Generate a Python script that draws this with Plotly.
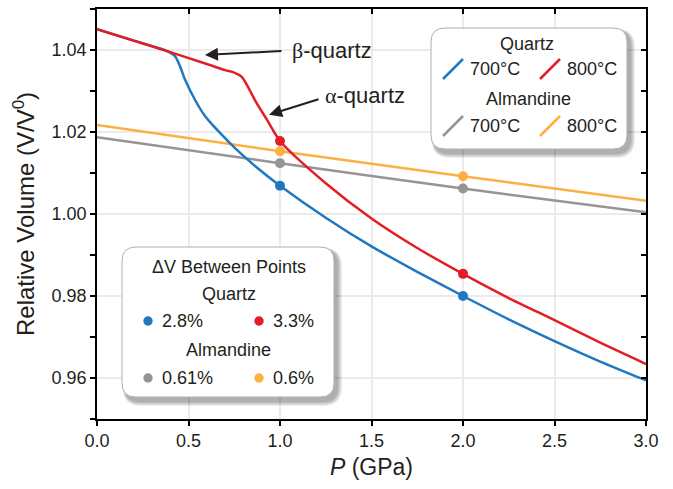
import plotly.graph_objects as go

# ---------------- data ----------------
p_q700 = [0, 0.2, 0.38, 0.426, 0.454, 0.481, 0.536, 0.59, 0.663, 0.763, 0.88, 1.0, 1.25, 1.5, 1.75, 2.0, 2.25, 2.5, 2.75, 3.0]
v_q700 = [1.0451, 1.0423, 1.0398, 1.0385, 1.0360, 1.0328, 1.0278, 1.0239, 1.0202, 1.0157, 1.0111, 1.0069, 0.9991, 0.9921, 0.9859, 0.9800, 0.9743, 0.9690, 0.9640, 0.9594]

p_q800 = [0, 0.3, 0.6, 0.70, 0.75, 0.79, 0.83, 0.87, 0.93, 1.0, 1.25, 1.5, 1.75, 2.0, 2.25, 2.5, 2.75, 3.0]
v_q800 = [1.0451, 1.0409, 1.0366, 1.0351, 1.0345, 1.0335, 1.0306, 1.0272, 1.0229, 1.0178, 1.0075, 0.9989, 0.9917, 0.9854, 0.9795, 0.9741, 0.9686, 0.9634]

p_alm = [0, 1, 2, 3]
v_a700 = [1.0187, 1.0124, 1.0062, 1.0004]
v_a800 = [1.0217, 1.0153, 1.0092, 1.0032]

p_pts = [1, 2]
pts_q700 = [1.0069, 0.9800]
pts_q800 = [1.0178, 0.9854]
pts_a700 = [1.0124, 1.0062]
pts_a800 = [1.0153, 1.0092]

series_colors = ["#1f78c1", "#e41e26", "#959595", "#fbb040"]
temp_labels = ["700°C", "800°C", "700°C", "800°C"]
dv_labels = ["2.8%", "3.3%", "0.61%", "0.6%"]
group_titles = ["Quartz", "Almandine"]
dv_title = "ΔV Between Points"

x_ticks = [0, 0.5, 1.0, 1.5, 2.0, 2.5, 3.0]
y_ticks = [0.96, 0.98, 1.00, 1.02, 1.04]

FONT = "Liberation Sans, Arial, sans-serif"
TXT = "#231f20"

# ---------------- geometry helpers (pixel -> paper) ----------------
W, H = 673, 489
L, R, T, B = 97, 27, 9, 70
PW, PH = W - L - R, H - T - B


def px(x):
    return (x - L) / PW


def py(y):
    return (H - B - y) / PH


def rrect(x0, y0, x1, y1, r):
    pts = []
    pts.append(f"M {px(x0 + r)},{py(y0)}")
    pts.append(f"L {px(x1 - r)},{py(y0)}")
    pts.append(f"Q {px(x1)},{py(y0)} {px(x1)},{py(y0 + r)}")
    pts.append(f"L {px(x1)},{py(y1 - r)}")
    pts.append(f"Q {px(x1)},{py(y1)} {px(x1 - r)},{py(y1)}")
    pts.append(f"L {px(x0 + r)},{py(y1)}")
    pts.append(f"Q {px(x0)},{py(y1)} {px(x0)},{py(y1 - r)}")
    pts.append(f"L {px(x0)},{py(y0 + r)}")
    pts.append(f"Q {px(x0)},{py(y0)} {px(x0 + r)},{py(y0)}")
    pts.append("Z")
    return " ".join(pts)


fig = go.Figure()

curves = [(p_alm, v_a700, 2), (p_alm, v_a800, 3), (p_q700, v_q700, 0), (p_q800, v_q800, 1)]
for xs, ys, ci in curves:
    fig.add_trace(go.Scatter(x=xs, y=ys, mode="lines", line=dict(color=series_colors[ci], width=2.5, shape="spline", smoothing=0.7),
                             showlegend=False, hoverinfo="skip"))

for ys, ci in [(pts_a700, 2), (pts_a800, 3), (pts_q700, 0), (pts_q800, 1)]:
    fig.add_trace(go.Scatter(x=p_pts, y=ys, mode="markers", marker=dict(color=series_colors[ci], size=10),
                             showlegend=False, hoverinfo="skip"))

# dummy trace to activate mirrored axes
fig.add_trace(go.Scatter(x=[None], y=[None], xaxis="x2", yaxis="y2", showlegend=False, hoverinfo="skip"))

shapes = []
annotations = []


def legend_box(x0, y0, x1, y1, r=14):
    for k in range(5, 0, -1):
        shapes.append(dict(type="path", xref="paper", yref="paper",
                           path=rrect(x0 + 3 - k * 0.5, y0 + 3 - k * 0.5, x1 + 3 + k, y1 + 4 + k, r + k),
                           fillcolor="rgba(0,0,0,0.07)", line=dict(width=0), layer="above"))
    shapes.append(dict(type="path", xref="paper", yref="paper", path=rrect(x0, y0, x1, y1, r),
                       fillcolor="white", line=dict(color="#b0b0b0", width=1), layer="above"))


def text(x, y, s, anchor="center", size=18):
    annotations.append(dict(xref="paper", yref="paper", x=px(x), y=py(y), text=s, showarrow=False,
                            xanchor=anchor, yanchor="middle", font=dict(family=FONT, size=size, color=TXT)))


# Legend 1 (temperatures)
legend_box(431, 28, 627, 149)
text(527, 44, group_titles[0])
text(528, 99, group_titles[1])
sym = [(443, 79, 0), (540, 79, 1), (443, 136, 2), (540, 136, 3)]
for (sx, sy, ci) in sym:
    shapes.append(dict(type="line", xref="paper", yref="paper", x0=px(sx), y0=py(sy), x1=px(sx + 20), y1=py(sy - 20),
                       line=dict(color=series_colors[ci], width=2.5), layer="above"))
    text(sx + 25, sy - 10, temp_labels[ci], anchor="left")

# Legend 2 (delta V)
legend_box(122, 247, 334, 397)
text(229, 267, dv_title)
text(229, 294, group_titles[0])
text(228, 350, group_titles[1])
dots = [(148, 321, 0), (259, 321, 1), (148, 378, 2), (259, 378, 3)]
for (dx, dy, ci) in dots:
    rr = 4.7
    shapes.append(dict(type="circle", xref="paper", yref="paper", x0=px(dx - rr), x1=px(dx + rr), y0=py(dy + rr), y1=py(dy - rr),
                       fillcolor=series_colors[ci], line=dict(width=0), layer="above"))
    text(dx + 12, dy, dv_labels[ci], anchor="left")

# Arrows and phase labels
annotations.append(dict(x=0.590, y=1.0388, xref="x", yref="y", ax=78, ay=-4, text="", showarrow=True,
                        arrowhead=2, arrowsize=1.3, arrowwidth=2, arrowcolor=TXT, standoff=0, startstandoff=0))
annotations.append(dict(x=0.940, y=1.0242, xref="x", yref="y", ax=51, ay=-16, text="", showarrow=True,
                        arrowhead=2, arrowsize=1.3, arrowwidth=2, arrowcolor=TXT, standoff=0, startstandoff=0))
annotations.append(dict(x=1.055, y=1.0398, xref="x", yref="y",
                        text="<span style='font-family:Liberation Serif, serif'>β</span>-quartz", showarrow=False,
                        xanchor="left", yanchor="middle", font=dict(family=FONT, size=22, color=TXT)))
annotations.append(dict(x=1.235, y=1.0288, xref="x", yref="y",
                        text="<span style='font-family:Liberation Serif, serif'>α</span>-quartz", showarrow=False,
                        xanchor="left", yanchor="middle", font=dict(family=FONT, size=22, color=TXT)))

axis_common = dict(showline=True, linecolor="black", linewidth=1.5, zeroline=False, tickcolor="black",
                   tickwidth=1.5, ticklen=5)

fig.update_layout(
    width=W, height=H, margin=dict(l=L, r=R, t=T, b=B),
    plot_bgcolor="white", paper_bgcolor="white",
    font=dict(family=FONT, color=TXT),
    xaxis=dict(range=[0, 3], tickvals=x_ticks, tickformat=".1f", ticks="outside", showgrid=True,
               gridcolor="#ebebeb", gridwidth=1.5, tickfont=dict(size=18),
               title=dict(text="<i>P</i> (GPa)", font=dict(size=23), standoff=9), **axis_common),
    yaxis=dict(range=[0.95, 1.05], tickvals=y_ticks, tickformat=".2f", ticks="outside", showgrid=True,
               gridcolor="#ebebeb", gridwidth=1.5, tickfont=dict(size=18),
               minor=dict(dtick=0.01, tick0=0.95, ticks="outside", ticklen=5, tickcolor="black", tickwidth=1.5, showgrid=False),
               title=dict(text="Relative Volume (V/V<sup>0</sup>)", font=dict(size=24), standoff=10), **axis_common),
    xaxis2=dict(range=[0, 3], overlaying="x", side="top", tickvals=x_ticks, ticks="inside", showticklabels=False,
                showgrid=False, **axis_common),
    yaxis2=dict(range=[0.95, 1.05], overlaying="y", side="right", dtick=0.01, tick0=0.95, ticks="inside",
                showticklabels=False, showgrid=False, **axis_common),
    shapes=shapes, annotations=annotations,
)

fig.write_html("out.html")
